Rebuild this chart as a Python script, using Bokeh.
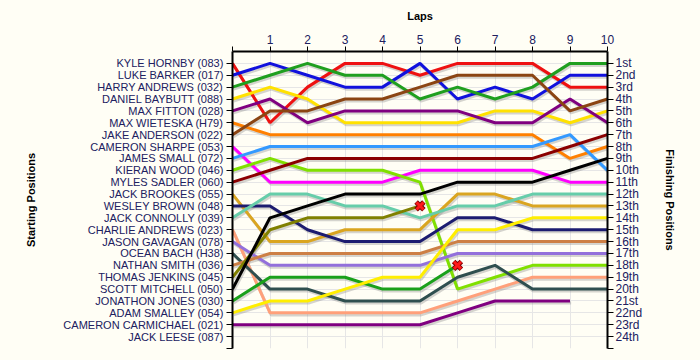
from bokeh.plotting import figure
from bokeh.models import ColumnDataSource, LinearAxis, FixedTicker, Range1d
from bokeh.transform import dodge
from bokeh.embed import file_html
from bokeh.resources import INLINE

laps = list(range(11))
lap_ticks = list(range(0, 11))

drivers = [
    "KYLE HORNBY (083)", "LUKE BARKER (017)", "HARRY ANDREWS (032)", "DANIEL BAYBUTT (088)",
    "MAX FITTON (028)", "MAX WIETESKA (H79)", "JAKE ANDERSON (022)", "CAMERON SHARPE (053)",
    "JAMES SMALL (072)", "KIERAN WOOD (046)", "MYLES SADLER (060)", "JACK BROOKES (055)",
    "WESLEY BROWN (048)", "JACK CONNOLLY (039)", "CHARLIE ANDREWS (023)", "JASON GAVAGAN (078)",
    "OCEAN BACH (H38)", "NATHAN SMITH (036)", "THOMAS JENKINS (045)", "SCOTT MITCHELL (050)",
    "JONATHON JONES (030)", "ADAM SMALLEY (054)", "CAMERON CARMICHAEL (021)", "JACK LEESE (087)",
]

colors = [
    "#ee1111", "#1111dd", "#1f9f1f", "#ffe100", "#800080", "#ff8000", "#8b4513", "#ff00ff",
    "#3399ff", "#80e000", "#8b0000", "#daa520", "#1c1c70", "#66cdaa", "#ffa07a", "#9370db",
    "#2f4f4f", "#cd7f45", "#808000", "#000000", "#1aa01a", "#ffee00", "#800080", None,
]

# position of each driver at the end of each lap (lap 0 = grid)
positions = [
    [1, 6, 3, 1, 1, 2, 1, 1, 1, 3, 3],
    [2, 1, 2, 3, 3, 1, 4, 3, 4, 2, 2],
    [3, 2, 1, 2, 2, 4, 3, 4, 3, 1, 1],
    [4, 3, 4, 6, 6, 6, 6, 5, 5, 6, 5],
    [5, 4, 6, 5, 5, 5, 5, 6, 6, 4, 6],
    [6, 7, 7, 7, 7, 7, 7, 7, 7, 9, 8],
    [7, 5, 5, 4, 4, 3, 2, 2, 2, 5, 4],
    [8, 11, 11, 11, 11, 10, 10, 10, 10, 11, 11],
    [9, 8, 8, 8, 8, 8, 8, 8, 8, 7, 10],
    [10, 9, 10, 10, 10, 11, 20, 19, 18, 18, 18],
    [11, 10, 9, 9, 9, 9, 9, 9, 9, 8, 7],
    [12, 16, 16, 15, 15, 15, 12, 12, 13, 13, 13],
    [13, 13, 15, 16, 16, 16, 14, 14, 15, 15, 15],
    [14, 12, 12, 13, 13, 14, 13, 13, 12, 12, 12],
    [15, 22, 22, 22, 22, 22, 21, 20, 19, 19, 19],
    [16, 18, 18, 18, 18, 18, 17, 17, 17, 17, 17],
    [17, 20, 20, 21, 21, 21, 19, 18, 20, 20, 20],
    [18, 17, 17, 17, 17, 17, 16, 16, 16, 16, 16],
    [19, 15, 14, 14, 14, 13],
    [20, 14, 13, 12, 12, 12, 11, 11, 11, 10, 9],
    [21, 19, 19, 19, 20, 20, 18],
    [22, 21, 21, 20, 19, 19, 15, 15, 14, 14, 14],
    [23, 23, 23, 23, 23, 23, 22, 21, 21, 21],
    [],
]

retired = [False] * 18 + [True, False, True, False, False, False]

finish_labels = ["1st", "2nd", "3rd", "4th", "5th", "6th", "7th", "8th", "9th", "10th",
                 "11th", "12th", "13th", "14th", "15th", "16th", "17th", "18th", "19th",
                 "20th", "21st", "22nd", "23rd", "24th"]

BG = "#fffef5"
TXT = "#202060"
FONT = "Liberation Sans"

p = figure(width=700, height=360, output_backend="svg", toolbar_location=None,
           x_axis_location="above", y_axis_location="left",
           x_range=Range1d(0, 10), y_range=Range1d(25, 0),
           min_border_left=232, min_border_right=93, min_border_top=51, min_border_bottom=12,
           background_fill_color=BG, border_fill_color=BG, outline_line_color=None)

# shadows
for pos, col in zip(positions, colors):
    if not pos or col is None:
        continue
    src = ColumnDataSource(dict(lap=laps[:len(pos)], pos=pos))
    p.line(x=dodge("lap", 0.03, range=p.x_range), y=dodge("pos", 0.17, range=p.y_range),
           source=src, line_color="#888888", line_alpha=0.35, line_width=3)

for pos, col in zip(positions, colors):
    if not pos or col is None:
        continue
    src = ColumnDataSource(dict(lap=laps[:len(pos)], pos=pos))
    p.line(x="lap", y="pos", source=src, line_color=col, line_width=3)

# retirements
dnf_lap = [len(pos) - 1 for pos, r in zip(positions, retired) if r]
dnf_pos = [pos[-1] for pos, r in zip(positions, retired) if r]
p.scatter(dnf_lap, dnf_pos, marker="x", size=11, line_color="#800000", line_width=5)
p.scatter(dnf_lap, dnf_pos, marker="x", size=10, line_color="#ff1a1a", line_width=3)

# grids
p.xgrid.grid_line_color = "#e6e6e6"
p.ygrid.grid_line_color = "#e6e6e6"

# top axis
xa = p.xaxis[0]
xa.ticker = FixedTicker(ticks=lap_ticks)
xa.major_label_overrides = {0: ""}
xa.axis_label = "Laps"
xa.axis_label_text_font = FONT
xa.axis_label_text_font_style = "bold"
xa.axis_label_text_font_size = "11px"
xa.axis_label_text_color = "black"
xa.axis_label_standoff = 10
xa.major_label_text_font = FONT
xa.major_label_text_font_size = "12px"
xa.major_label_text_color = TXT
xa.major_label_standoff = 3
xa.major_tick_out = 5
xa.major_tick_in = 0
xa.minor_tick_out = 0
xa.minor_tick_in = 0
xa.axis_line_width = 2
xa.major_tick_line_width = 1

# left axis (starting positions)
ya = p.yaxis[0]
ya.ticker = FixedTicker(ticks=list(range(1, 26)))
ov = {i + 1: d for i, d in enumerate(drivers)}
ov[25] = ""
ya.major_label_overrides = ov
ya.axis_label = "Starting Positions"
ya.axis_label_text_font = FONT
ya.axis_label_text_font_style = "bold"
ya.axis_label_text_font_size = "11px"
ya.axis_label_text_color = "black"
ya.axis_label_standoff = 23
ya.major_label_text_font = FONT
ya.major_label_text_font_size = "11px"
ya.major_label_text_color = TXT
ya.major_label_standoff = 3
ya.major_tick_out = 6
ya.major_tick_in = 0
ya.minor_tick_out = 0
ya.minor_tick_in = 0
ya.axis_line_width = 2

# right axis (finishing positions)
ra = LinearAxis(ticker=FixedTicker(ticks=list(range(1, 26))))
ov2 = {i + 1: s for i, s in enumerate(finish_labels)}
ov2[25] = ""
ra.major_label_overrides = ov2
ra.axis_label = "Finishing Positions"
ra.axis_label_text_font = FONT
ra.axis_label_text_font_style = "bold"
ra.axis_label_text_font_size = "11px"
ra.axis_label_text_color = "black"
ra.axis_label_standoff = 19
ra.major_label_text_font = FONT
ra.major_label_text_font_size = "12px"
ra.major_label_text_color = TXT
ra.major_label_standoff = 2
ra.major_tick_out = 6
ra.major_tick_in = 0
ra.minor_tick_out = 0
ra.minor_tick_in = 0
ra.axis_line_width = 2
p.add_layout(ra, "right")

tmpl = "{% block postamble %}<style>body{background:#fffef5;}</style>{% endblock %}"
open("out.html", "w").write(file_html(p, INLINE, template=tmpl))
